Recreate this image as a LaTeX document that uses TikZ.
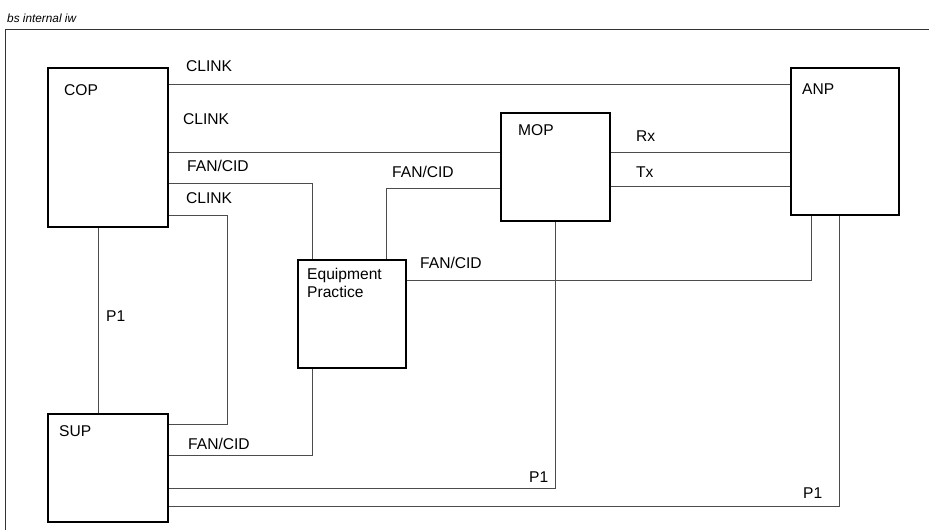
\documentclass[tikz,border=0pt]{standalone}
\usepackage{fontspec}
\setmainfont{Liberation Sans}
\begin{document}
\begin{tikzpicture}[x=1pt,y=-1pt,
  box/.style={draw=black,line width=1.5pt,rectangle,inner sep=0pt,anchor=north west},
  wire/.style={draw=black!70,line width=0.8pt},
  frame/.style={draw=black!80,line width=0.8pt},
  lbl/.style={anchor=base west,inner sep=0pt,font=\fontsize{15.6}{18}\selectfont},
  ttl/.style={anchor=base west,inner sep=0pt,font=\fontsize{11.8}{13}\selectfont\itshape}]
\useasboundingbox (0,0) rectangle (929,530);
% frame
\coordinate (fr1) at (929,29);
\coordinate (fr2) at (5,29);
\coordinate (fr3) at (5,530);
\draw[frame] (fr1) -- (fr2) -- (fr3);
\node[ttl] (title) at (7,22) {bs internal iw};
% boxes
\node[box,minimum width=120,minimum height=159] (cop) at (47,67) {};
\node[box,minimum width=109,minimum height=108] (mop) at (500,112) {};
\node[box,minimum width=108,minimum height=147] (anp) at (790,67) {};
\node[box,minimum width=108,minimum height=108] (eqp) at (297,259) {};
\node[box,minimum width=120,minimum height=108] (sup) at (47,413) {};
% box labels
\node[lbl] (copl) at (64,95) {COP};
\node[lbl] (mopl) at (518,135) {MOP};
\node[lbl] (anpl) at (802,94) {ANP};
\node[lbl] (supl) at (59,436) {SUP};
\node[lbl] (eqpl1) at (307,279) {Equipment};
\node[lbl] (eqpl2) at (307,297) {Practice};
% helper coordinates
\coordinate (y84) at (0,84);
\coordinate (y152) at (0,152);
\coordinate (y183) at (0,183);
\coordinate (y186) at (0,186);
\coordinate (y188) at (0,188);
\coordinate (y215) at (0,215);
\coordinate (y280) at (0,280);
\coordinate (y424) at (0,424);
\coordinate (y455) at (0,455);
\coordinate (y488) at (0,488);
\coordinate (y506) at (0,506);
\coordinate (x98) at (98,0);
\coordinate (x227) at (227,0);
\coordinate (x312) at (312,0);
\coordinate (x386) at (386,0);
\coordinate (x555) at (555,0);
\coordinate (x811) at (811,0);
\coordinate (x839) at (839,0);
% connectors
\draw[wire] (cop.east |- y84) -- (anp.west |- y84);
\draw[wire] (cop.east |- y152) -- (mop.west |- y152);
\draw[wire] (cop.east |- y183) -| (x312 |- eqp.north);
\draw[wire] (cop.east |- y215) -| (x227 |- y424) -- (sup.east |- y424);
\draw[wire] (cop.south -| x98) -- (sup.north -| x98);
\draw[wire] (sup.east |- y455) -| (x312 |- eqp.south);
\draw[wire] (sup.east |- y488) -| (mop.south -| x555);
\draw[wire] (sup.east |- y506) -| (anp.south -| x839);
\draw[wire] (eqp.east |- y280) -| (anp.south -| x811);
\draw[wire] (mop.west |- y188) -| (x386 |- eqp.north);
\draw[wire] (mop.east |- y152) -- (anp.west |- y152);
\draw[wire] (mop.east |- y186) -- (anp.west |- y186);
% connector labels
\node[lbl] (l1) at (186,71) {CLINK};
\node[lbl] (l2) at (183,124) {CLINK};
\node[lbl] (l3) at (187,171) {FAN/CID};
\node[lbl] (l4) at (186,203) {CLINK};
\node[lbl] (l5) at (106,321) {P1};
\node[lbl] (l6) at (188,449) {FAN/CID};
\node[lbl] (l7) at (529,482) {P1};
\node[lbl] (l8) at (803,498) {P1};
\node[lbl] (l9) at (420,268) {FAN/CID};
\node[lbl] (l10) at (392,177) {FAN/CID};
\node[lbl] (l11) at (636,141) {Rx};
\node[lbl] (l12) at (636,177) {Tx};
\end{tikzpicture}
\end{document}
